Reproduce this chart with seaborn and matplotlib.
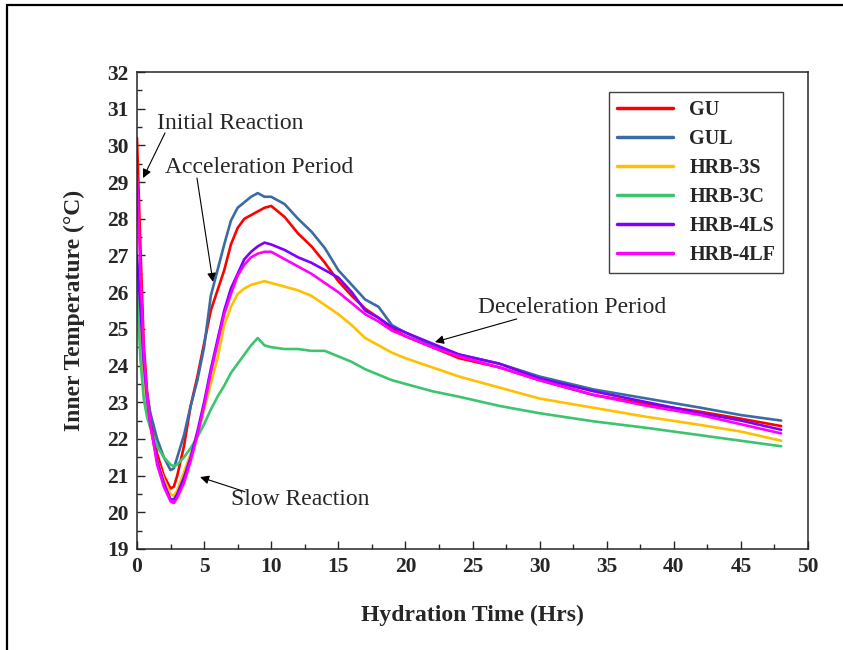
import numpy as np
import pandas as pd
import matplotlib
matplotlib.use("Agg")
import matplotlib.pyplot as plt
import seaborn as sns
from matplotlib.patches import Rectangle
from matplotlib.ticker import MultipleLocator

# =========================
# DATA
# =========================

TIME = [0, 0.25, 0.5, 0.75, 1.0, 1.5, 2.0, 2.5, 2.75, 3.0, 3.5, 4.0, 4.5, 5.0,
        5.5, 6.0, 6.5, 7.0, 7.5, 8.0, 8.5, 9.0, 9.5, 10.0, 11.0, 12.0, 13.0,
        14.0, 15.0, 16.0, 17.0, 18.0, 19.0, 20.0, 22.0, 24.0, 27.0, 30.0,
        34.0, 38.0, 42.0, 45.0, 48.0]

GU = [30.2, 27.3, 24.6, 23.3, 22.6, 21.6, 21.0, 20.65, 20.7, 21.0, 21.8, 22.9,
      23.7, 24.6, 25.5, 26.05, 26.6, 27.3, 27.75, 28.0, 28.1, 28.2, 28.3, 28.35,
      28.05, 27.6, 27.25, 26.8, 26.3, 25.9, 25.55, 25.3, 25.0, 24.8, 24.5, 24.2,
      23.95, 23.6, 23.2, 22.95, 22.74, 22.55, 22.35]

GUL = [26.3, 25.2, 24.0, 23.2, 22.7, 22.0, 21.5, 21.15, 21.2, 21.5, 22.1, 22.9,
       23.6, 24.5, 25.9, 26.6, 27.3, 27.95, 28.3, 28.45, 28.6, 28.7, 28.6, 28.6,
       28.4, 28.0, 27.65, 27.2, 26.6, 26.2, 25.8, 25.6, 25.1, 24.9, 24.55, 24.3,
       24.05, 23.7, 23.35, 23.1, 22.85, 22.65, 22.5]

HRB_3S = [26.4, 25.0, 23.8, 22.9, 22.3, 21.4, 20.9, 20.5, 20.45, 20.6, 21.1,
          21.6, 22.1, 22.8, 23.5, 24.2, 25.1, 25.6, 25.95, 26.1, 26.2,
          26.25, 26.3, 26.25, 26.15, 26.05, 25.9, 25.65, 25.4, 25.1, 24.75,
          24.55, 24.35, 24.2, 23.95, 23.7, 23.4, 23.1, 22.85, 22.6, 22.38,
          22.2, 21.95]

HRB_3C = [26.1, 24.2, 23.1, 22.6, 22.3, 21.8, 21.5, 21.3, 21.25, 21.3, 21.5,
          21.75, 22.05, 22.4, 22.8, 23.15, 23.45, 23.8, 24.05, 24.3, 24.55,
          24.75, 24.55, 24.5, 24.45, 24.45, 24.4, 24.4, 24.25, 24.1, 23.9,
          23.75, 23.6, 23.5, 23.3, 23.15, 22.9, 22.7, 22.48, 22.3, 22.1,
          21.95, 21.8]

HRB_4LS = [27.0, 25.6, 24.1, 23.1, 22.4, 21.4, 20.8, 20.35, 20.35, 20.5, 20.95,
           21.5, 22.2, 23.0, 23.9, 24.7, 25.5, 26.1, 26.5, 26.9, 27.1, 27.25,
           27.35, 27.3, 27.15, 26.95, 26.8, 26.6, 26.4, 26.0, 25.5, 25.3,
           25.05, 24.9, 24.6, 24.3, 24.05, 23.65, 23.3, 23.0, 22.7, 22.5,
           22.25]

HRB_4LF = [29.2, 26.6, 24.4, 23.2, 22.4, 21.3, 20.7, 20.3, 20.25, 20.4, 20.8,
           21.4, 22.1, 22.9, 23.8, 24.6, 25.4, 25.95, 26.45, 26.75, 26.95,
           27.05, 27.1, 27.1, 26.9, 26.7, 26.5, 26.25, 26.0, 25.7, 25.4, 25.2,
           24.95, 24.8, 24.5, 24.25, 23.95, 23.6, 23.2, 22.9, 22.65, 22.4,
           22.15]

NAMES = ["GU", "GUL", "HRB-3S", "HRB-3C", "HRB-4LS", "HRB-4LF"]
COLORS = ["#FF0000", "#3A6CA3", "#FFC000", "#3CC46E", "#8000FF", "#FF00FF"]

series = [GU, GUL, HRB_3S, HRB_3C, HRB_4LS, HRB_4LF]

rows = []
for name, vals in zip(NAMES, series):
    for t, v in zip(TIME, vals):
        rows.append({"time": t, "temp": v, "mix": name})
df = pd.DataFrame(rows)

# =========================
# PLOT
# =========================

sns.set_style("ticks")
plt.rcParams["font.family"] = ["Liberation Serif", "DejaVu Serif"]

fig = plt.figure(figsize=(8.43, 6.5), dpi=100)
ax = fig.add_axes([0.1625, 0.1554, 0.796, 0.7338])

sns.lineplot(
    data=df,
    x="time",
    y="temp",
    hue="mix",
    hue_order=NAMES,
    palette=COLORS,
    linewidth=1.9,
    estimator=None,
    sort=True,
    ax=ax
)

ax.set_xlim(0, 50)
ax.set_ylim(19, 32)
ax.xaxis.set_major_locator(MultipleLocator(5))
ax.xaxis.set_minor_locator(MultipleLocator(2.5))
ax.yaxis.set_major_locator(MultipleLocator(1))
ax.yaxis.set_minor_locator(MultipleLocator(0.5))
ax.tick_params(which="both", direction="in", width=1.0)
ax.tick_params(which="major", length=6, labelsize=15.5, pad=6)
ax.tick_params(which="minor", length=3.5)
for lab in ax.get_xticklabels() + ax.get_yticklabels():
    lab.set_fontweight("bold")
for sp in ax.spines.values():
    sp.set_linewidth(1.1)
    sp.set_visible(True)

ax.set_xlabel("Hydration Time (Hrs)", fontsize=17, fontweight="bold", labelpad=20)
ax.set_ylabel("Inner Temperature (°C)", fontsize=17, fontweight="bold", labelpad=16)

# annotations
arrow = dict(arrowstyle="-|>", color="black", lw=0.8, mutation_scale=13,
             shrinkA=0, shrinkB=0)
ax.text(1.49, 30.61, "Initial Reaction", fontsize=17, ha="left", va="center")
ax.annotate("", xy=(0.45, 29.11), xytext=(2.09, 30.34), arrowprops=arrow)
ax.text(2.09, 29.41, "Acceleration Period", fontsize=17, ha="left", va="center")
ax.annotate("", xy=(5.66, 26.28), xytext=(4.47, 29.11), arrowprops=arrow)
ax.text(25.4, 25.57, "Deceleration Period", fontsize=17, ha="left", va="center")
ax.annotate("", xy=(22.2, 24.64), xytext=(28.3, 25.27), arrowprops=arrow)
ax.text(7.0, 20.34, "Slow Reaction", fontsize=17, ha="left", va="center")
ax.annotate("", xy=(4.7, 20.96), xytext=(8.05, 20.56), arrowprops=arrow)

sns.move_legend(
    ax,
    "upper right",
    bbox_to_anchor=(0.963, 0.958),
    borderaxespad=0,
    title=None,
    frameon=True,
    fancybox=False,
    edgecolor="#404040",
    framealpha=1,
    handlelength=2.8,
    labelspacing=0.45,
    prop={"weight": "bold", "size": 14.5, "family": "Liberation Serif"}
)
leg = ax.get_legend()
leg.get_frame().set_linewidth(1.0)
for h in leg.legend_handles:
    h.set_linewidth(2.5)

# outer frame
fig.patches.append(Rectangle((7 / 843, -0.1), 1.2, 0.9923 + 0.1,
                             transform=fig.transFigure, fill=False,
                             edgecolor="black", linewidth=1.6))

fig.savefig("out.png", dpi=100)
